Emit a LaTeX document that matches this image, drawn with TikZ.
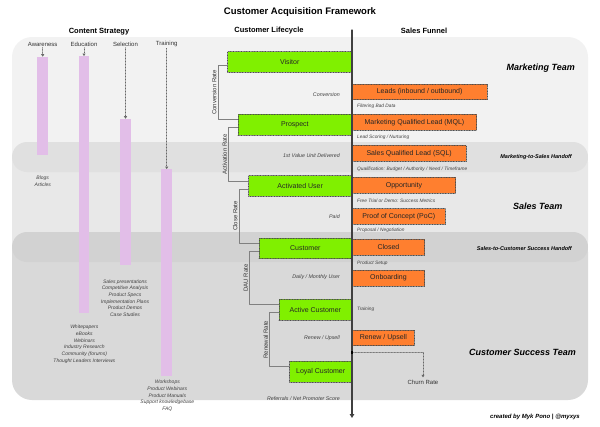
\documentclass[tikz,border=0pt]{standalone}
\usepackage{fontspec}
\setmainfont{Liberation Sans}
\usetikzlibrary{arrows.meta}
\definecolor{lifegreen}{RGB}{128,240,0}
\definecolor{funnelorange}{RGB}{255,127,47}
\definecolor{barpink}{RGB}{226,190,232}
\definecolor{mktgray}{RGB}{242,242,242}
\definecolor{salesgray}{RGB}{232,232,232}
\definecolor{csgray}{RGB}{217,217,217}
\definecolor{handoffA}{RGB}{224,224,224}
\definecolor{handoffB}{RGB}{210,210,210}
\begin{document}
\begin{tikzpicture}[x=1pt, y=-1pt, line join=round, line cap=round, >=stealth,
	lifebox/.style={draw=black!70, densely dotted, line width=0.6pt, fill=lifegreen, minimum height=20.5pt, inner sep=0pt, anchor=east, text=black!85, font=\fontsize{7}{8}\selectfont},
	funnelbox/.style={draw=black!70, densely dotted, line width=0.6pt, fill=funnelorange, minimum height=15.7pt, inner sep=0pt, anchor=west, text=black!85, font=\fontsize{7}{8}\selectfont},
	bar/.style={fill=barpink, minimum width=10.5pt, inner sep=0pt},
	colhead/.style={inner sep=1pt, text=black!80, font=\fontsize{6}{7}\selectfont},
	feed/.style={densely dotted, draw=black!60, line width=0.5pt, -{Triangle[width=3pt,length=2.5pt]}},
	ratebracket/.style={draw=black!50, line width=0.7pt},
	ratelabel/.style={rotate=90, anchor=south, inner sep=1.5pt, text=black!80, font=\fontsize{6}{7}\selectfont},
	note/.style={inner sep=0pt, text=black!75, font=\fontsize{5.3}{6.7}\selectfont\itshape},
	smallnote/.style={inner sep=0pt, anchor=west, text=black!75, font=\fontsize{4.8}{6}\selectfont\itshape},
	listnote/.style={inner sep=0pt, align=center, text=black!75, font=\fontsize{5}{6.7}\selectfont\itshape},
	team/.style={inner sep=0pt, anchor=east, text=black, font=\fontsize{9}{10}\selectfont\bfseries\itshape},
	handoff/.style={inner sep=0pt, anchor=east, text=black, font=\fontsize{5.5}{6.5}\selectfont\bfseries\itshape},
	header/.style={inner sep=0pt, text=black, font=\fontsize{7.5}{9}\selectfont\bfseries}]
	%Page frame.
	\useasboundingbox (0,0) rectangle (600,426);
	%Team bands.
	\fill[mktgray, rounded corners=20pt] (12,37) rectangle (588,172);
	\fill[salesgray, rounded corners=20pt] (12,142) rectangle (588,262);
	\fill[handoffA, rounded corners=15pt] (12,142) rectangle (588,172);
	\fill[csgray, rounded corners=20pt] (12,232) rectangle (588,400);
	\fill[handoffB, rounded corners=15pt] (12,232) rectangle (588,262);
	%Titles.
	\node[header, font=\fontsize{9.5}{11}\selectfont\bfseries] (title) at (300,12) {Customer Acquisition Framework};
	\node[header] (content) at (99,31.5) {Content Strategy};
	\node[header] (lifecycle) at (269,31) {Customer Lifecycle};
	\node[header] (funnel) at (424,31) {Sales Funnel};
	%Content strategy.
	\foreach \nm/\x/\top/\bot/\txt in {aware/42.7/56.7/155/Awareness, edu/84/56/313/Education, sel/125.5/118.7/265/Selection, train/166.7/169/376/Training}{
		\node[colhead] (\nm) at (\x,44.3) {\txt};
		\node[bar, minimum height={(\bot-\top)*1pt}, anchor=north] (\nm-bar) at (\x,\top) {};
		\draw[feed] (\nm) -- (\nm-bar);
	}
	\node[listnote] (blogs) at (42.7,181.3) {Blogs\\Articles};
	\node[listnote] (sellist) at (125,298) {Sales presentations\\Competitive Analysis\\Product Specs\\Implementation Plans\\Product Demos\\Case Studies};
	\node[listnote] (edulist) at (84.3,344.3) {Whitepapers\\eBooks\\Webinars\\Industry Research\\Community (forums)\\Thought Leaders Interviews};
	\node[listnote] (trainlist) at (167.3,395.7) {Workshops\\Product Webinars\\Product Manuals\\Support knowledgebase\\FAQ};
	%Customer lifecycle.
	\foreach \nm/\w/\y/\txt in {visitor/124/62/Visitor, prospect/113.7/124.7/Prospect, activated/103/186/Activated User, customer/92.7/248.3/Customer, active/72.7/309.7/Active Customer, loyal/62/371.7/Loyal Customer}{
		\node[lifebox, minimum width=\w pt] (\nm) at (352,\y) {\txt};
	}
	\foreach \a/\b/\txt in {visitor/prospect/Conversion Rate, prospect/activated/Activation Rate, activated/customer/Close Rate, customer/active/DAU Rate, active/loyal/Renewal Rate}{
		\draw[ratebracket] ([yshift=-3pt]\a.west) -- ++(-9,0) |- node[pos=0.25, ratelabel] (\a-rate) {\txt} ([yshift=5pt]\b.west);
	}
	\foreach \nm/\y/\txt in {conv/95/Conversion, value/155.7/1st Value Unit Delivered, paid/216.7/Paid, dau/277/{Daily / Monthly User}, upsell/338.3/{Renew / Upsell}, referral/399/{Referrals / Net Promoter Score}}{
		\node[note, anchor=east] (\nm) at (340,\y) {\txt};
	}
	%Sales funnel.
	\foreach \nm/\w/\y/\txt in {leads/134.7/91.7/{Leads (inbound / outbound)}, mql/124.3/122.2/{Marketing Qualified Lead (MQL)}, sql/113.7/153.3/{Sales Qualified Lead (SQL)}, opp/103.3/185.3/Opportunity, poc/93/216.5/{Proof of Concept (PoC)}, closed/72.3/247.2/Closed, onboard/72.3/278/Onboarding, renew/62/337.9/{Renew / Upsell}}{
		\node[funnelbox, minimum width=\w pt] (\nm) at (352,\y) {\txt};
	}
	\foreach \nm/\y/\txt in {filter/106.7/Filtering Bad Data, scoring/137.7/{Lead Scoring / Nurturing}, qualify/169.3/{Qualification: Budget / Authority / Need / Timeframe}, trial/201/{Free Trial or Demo: Success Metrics}, proposal/230.7/{Proposal / Negotiation}, setup/263.3/Product Setup, training/309.3/Training}{
		\node[smallnote] (\nm) at (357,\y) {\txt};
	}
	%Axis.
	\coordinate (axtop) at (352,30);
	\coordinate (axbot) at (352,418);
	\draw[black!75, line width=1.1pt, -{Triangle[width=4.5pt,length=4pt]}] (axtop) -- (axbot);
	%Churn.
	\node[fill=black, minimum size=2.6pt, inner sep=0pt] (churn) at (352,352.3) {};
	\node[inner sep=1pt, text=black!80, font=\fontsize{6}{7}\selectfont] (churnlbl) at (423,382.7) {Churn Rate};
	\draw[feed, shorten >=2pt] (churn) -| (churnlbl);
	%Teams.
	\node[team] (mkt) at (575,68.3) {Marketing Team};
	\node[handoff] (mkt2sales) at (572,157.3) {Marketing-to-Sales Handoff};
	\node[team, anchor=center] (sales) at (537.8,206.7) {Sales Team};
	\node[handoff] (sales2cs) at (572,248.3) {Sales-to-Customer Success Handoff};
	\node[team] (cs) at (576,352.3) {Customer Success Team};
	\node[handoff, font=\fontsize{6}{7}\selectfont\bfseries\itshape] (credit) at (580,416.7) {created by Myk Pono | @myxys};
\end{tikzpicture}
\end{document}
